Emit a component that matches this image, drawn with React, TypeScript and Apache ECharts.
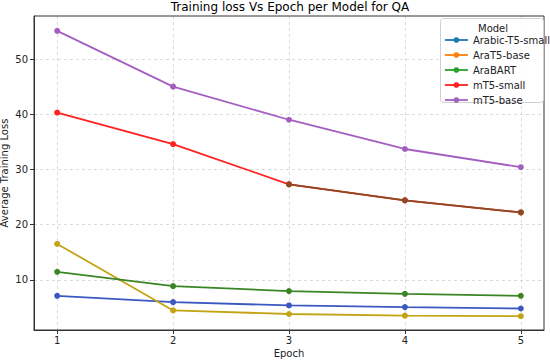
import React, { useEffect, useRef } from "react";
import * as echarts from "echarts";

const epochs = [1, 2, 3, 4, 5];
const modelNames = ["Arabic-T5-small", "AraT5-base", "AraBART", "mT5-small", "mT5-base"];
const arabicT5Small = [7.1, 5.95, 5.35, 5.05, 4.8];
const araT5Base = [16.5, 4.45, 3.8, 3.5, 3.4];
const araBart = [11.45, 8.85, 7.95, 7.45, 7.1];
const mt5Small = [40.3, 34.6, 27.3, 24.4, 22.2];
const mt5Base = [55.1, 45.0, 39.0, 33.7, 30.4];
// epochs from which the mT5-small line is seen overdrawn in brown
const mt5SmallOverdrawFrom = 3;

const X_MIN = 0.8, X_MAX = 5.2;
const Y_MIN = 0.9, Y_MAX = 57.8;
const X_TICK_MIN = 1, X_TICK_MAX = 5, X_TICK_STEP = 1;
const Y_TICK_MIN = 10, Y_TICK_MAX = 50, Y_TICK_STEP = 10;

const legendColors = ["#1f77b4", "#ff7f0e", "#2ca02c", "#ff2020", "#a062c0"];
const lineColors = ["#3b58c0", "#c2a414", "#3a8524", "#ff2020", "#a35fc0"];
const overdrawColor = "#8e4a22";

const W = 550, H = 361;
const G = { left: 34, right: 6, top: 16, bottom: 31 };

export default function App() {
  const ref = useRef<HTMLDivElement>(null);
  useEffect(() => {
    const chart = echarts.init(ref.current!, null, { renderer: "svg" });
    const all = [arabicT5Small, araT5Base, araBart, mt5Small, mt5Base];
    const font = "DejaVu Sans";
    const gridLine = { show: true, lineStyle: { color: "#d2d2d2", type: [3, 3], width: 0.8 } };
    const plotW = W - G.left - G.right;
    const plotH = H - G.top - G.bottom;
    const gA = {
      left: G.left + ((X_TICK_MIN - X_MIN) / (X_MAX - X_MIN)) * plotW,
      right: G.right + ((X_MAX - X_TICK_MAX) / (X_MAX - X_MIN)) * plotW,
      top: G.top,
      bottom: G.bottom,
    };
    const gB = {
      left: G.left,
      right: G.right,
      top: G.top + ((Y_MAX - Y_TICK_MAX) / (Y_MAX - Y_MIN)) * plotH,
      bottom: G.bottom + ((Y_TICK_MIN - Y_MIN) / (Y_MAX - Y_MIN)) * plotH,
    };
    const tickLabel = { fontFamily: font, fontSize: 10, color: "#222" };
    const series: any[] = all.map((vals, i) => ({
      name: modelNames[i],
      type: "line",
      xAxisIndex: 0,
      yAxisIndex: 0,
      data: vals.map((v, k) => [epochs[k], v]),
      symbol: "circle",
      symbolSize: 6,
      lineStyle: { width: 1.8, color: lineColors[i] },
      itemStyle: { color: lineColors[i] },
      z: 3 + i,
    }));
    series.push({
      name: "mT5-small overdraw",
      type: "line",
      xAxisIndex: 0,
      yAxisIndex: 0,
      data: mt5Small
        .map((v, k) => [epochs[k], v])
        .filter((p) => p[0] >= mt5SmallOverdrawFrom),
      symbol: "circle",
      symbolSize: 6,
      lineStyle: { width: 1.8, color: overdrawColor },
      itemStyle: { color: overdrawColor },
      z: 7,
    });
    chart.setOption({
      animation: false,
      textStyle: { fontFamily: font },
      title: {
        text: "Training loss Vs Epoch per Model for QA",
        left: 290,
        textAlign: "center",
        top: 1,
        padding: 0,
        textStyle: { fontFamily: font, fontSize: 12, fontWeight: "normal", color: "#000" },
      },
      grid: [
        {
          ...G,
          outerBoundsMode: "none",
          containLabel: false,
          show: true,
          borderColor: "#333",
          borderWidth: 1,
          backgroundColor: "transparent",
          z: 2,
        },
        { ...gA, outerBoundsMode: "none", containLabel: false, z: 0 },
        { ...gB, outerBoundsMode: "none", containLabel: false, z: 0 },
      ],
      xAxis: [
        {
          gridIndex: 0,
          type: "value",
          min: X_MIN,
          max: X_MAX,
          name: "Epoch",
          nameLocation: "middle",
          nameGap: 18,
          nameTextStyle: { fontFamily: font, fontSize: 10, color: "#222" },
          axisLine: { show: true, lineStyle: { color: "#333" } },
          axisTick: { show: false },
          axisLabel: { show: false },
          splitLine: { show: false },
        },
        {
          gridIndex: 1,
          type: "value",
          min: X_TICK_MIN,
          max: X_TICK_MAX,
          interval: X_TICK_STEP,
          axisLine: { show: false },
          axisTick: { show: true, length: 4, lineStyle: { color: "#333" } },
          axisLabel: { ...tickLabel, margin: 5 },
          splitLine: gridLine,
        },
        { gridIndex: 2, type: "value", show: false },
      ],
      yAxis: [
        {
          gridIndex: 0,
          type: "value",
          min: Y_MIN,
          max: Y_MAX,
          name: "Average Training Loss",
          nameLocation: "middle",
          nameGap: 25,
          nameTextStyle: { fontFamily: font, fontSize: 10, color: "#222" },
          axisLine: { show: true, lineStyle: { color: "#333" } },
          axisTick: { show: false },
          axisLabel: { show: false },
          splitLine: { show: false },
        },
        { gridIndex: 1, type: "value", show: false, min: 0, max: 1 },
        {
          gridIndex: 2,
          type: "value",
          min: Y_TICK_MIN,
          max: Y_TICK_MAX,
          interval: Y_TICK_STEP,
          axisLine: { show: false },
          axisTick: { show: true, length: 4, lineStyle: { color: "#333" } },
          axisLabel: { ...tickLabel, margin: 6 },
          splitLine: gridLine,
        },
      ],
      legend: {
        orient: "vertical",
        left: 444,
        top: 35,
        padding: 0,
        itemWidth: 23,
        itemHeight: 7,
        itemGap: 5,
        z: 12,
        textStyle: { fontFamily: font, fontSize: 10, color: "#222" },
        data: modelNames.map((n, i) => ({
          name: n,
          itemStyle: { color: legendColors[i] },
          lineStyle: { color: legendColors[i], width: 1.8 },
        })),
      },
      graphic: [
        {
          type: "rect",
          left: 440,
          top: 18,
          z: 9,
          shape: { width: 103, height: 84, r: 3 },
          style: { fill: "rgba(255,255,255,0.85)", stroke: "#d0d0d0", lineWidth: 1 },
        },
        {
          type: "text",
          left: 478,
          top: 23,
          z: 11,
          style: { text: "Model", fontFamily: font, fontSize: 10, fill: "#222" },
        },
      ],
      series,
    });
    return () => chart.dispose();
  }, []);
  return (
    <div
      ref={ref}
      style={{ position: "absolute", left: 0, top: 0, width: W, height: H }}
    />
  );
}
